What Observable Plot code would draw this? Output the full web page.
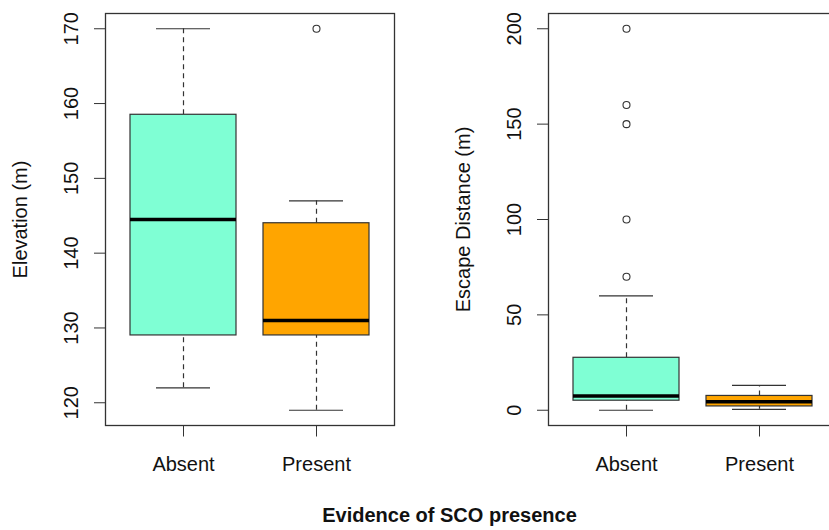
<!DOCTYPE html>
<html>
<head>
<meta charset="utf-8">
<script src="https://cdn.jsdelivr.net/npm/d3@7"></script>
<script src="https://cdn.jsdelivr.net/npm/@observablehq/plot@0.6"></script>
<style>
  html, body { margin: 0; padding: 0; background: white; }
  #wrap { position: relative; width: 829px; height: 530px; overflow: hidden; background: white; }
  #wrap svg { position: absolute; top: 0; max-width: none !important; }
  #title { position: absolute; left: 0; width: 899px; top: 504.6px; text-align: center;
           font-family: 'Liberation Sans', Arial, sans-serif; font-weight: bold; font-size: 20px; line-height: 20px; color: #111; }
</style>
</head>
<body>
<div id="wrap"><div id="title">Evidence of SCO presence</div></div>
<script>
// ---- data ----
const categories = ["Absent", "Present"];
const boxColors = ["#7FFFD4", "#FFA500"];

const elevLow    = [122, 119];
const elevQ1     = [129, 129];
const elevMedian = [144.5, 131];
const elevQ3     = [158.5, 144];
const elevHigh   = [170, 147];
const elevOutCat = ["Present"];
const elevOutVal = [170];
const elevTicks  = [120, 130, 140, 150, 160, 170];

const escLow    = [0, 0.5];
const escQ1     = [5, 2];
const escMedian = [7.5, 4.5];
const escQ3     = [27.5, 7.5];
const escHigh   = [60, 13];
const escOutCat = ["Absent", "Absent", "Absent", "Absent", "Absent"];
const escOutVal = [70, 100, 150, 160, 200];
const escTicks  = [0, 50, 100, 150, 200];

function panel({low, q1, med, q3, high, outCat, outVal, ticks, label, width, marginLeft, marginRight}) {
  const stats = categories.map((c, i) => ({cat: c, low: low[i], q1: q1[i], med: med[i], q3: q3[i], high: high[i]}));
  const outliers = outCat.map((c, i) => ({cat: c, v: outVal[i]}));
  // R-style 4% range extension
  const lo = Math.min(d3.min(low), d3.min(outVal));
  const hi = Math.max(d3.max(high), d3.max(outVal));
  const pad = (hi - lo) * 0.04;
  const ink = "#333";
  return Plot.plot({
    width, height: 480,
    marginLeft, marginRight, marginTop: 13, marginBottom: 55,
    style: {fontFamily: "'Liberation Sans', Arial, sans-serif", fontSize: "20px", color: "#111", background: "white"},
    x: {type: "band", domain: categories, paddingInner: 0.2, paddingOuter: 0.18, label: null},
    y: {domain: [lo - pad, hi + pad], label: null},
    color: {domain: categories, range: boxColors},
    marks: [
      Plot.ruleX(stats, {x: "cat", y1: "q3", y2: "high", stroke: ink, strokeWidth: 1.2, strokeDasharray: "5,4"}),
      Plot.ruleX(stats, {x: "cat", y1: "low", y2: "q1", stroke: ink, strokeWidth: 1.2, strokeDasharray: "5,4"}),
      Plot.tickY(stats, {x: "cat", y: "high", stroke: ink, strokeWidth: 1.2, insetLeft: 26, insetRight: 26}),
      Plot.tickY(stats, {x: "cat", y: "low", stroke: ink, strokeWidth: 1.2, insetLeft: 26, insetRight: 26}),
      Plot.barY(stats, {x: "cat", y1: "q1", y2: "q3", fill: "cat", stroke: ink, strokeWidth: 1.2}),
      Plot.tickY(stats, {x: "cat", y: "med", stroke: "#000", strokeWidth: 3.5}),
      Plot.dot(outliers, {x: "cat", y: "v", r: 3.5, stroke: ink, strokeWidth: 1.1, fill: "none"}),
      Plot.frame({stroke: ink, strokeWidth: 1.3}),
      Plot.axisY({ticks, tickSize: 11, tickPadding: 16.5, tickRotate: -90, stroke: ink,
                  label, labelAnchor: "center", labelOffset: 92.5, labelArrow: false}),
      Plot.axisX({tickSize: 11.5, tickPadding: 20, stroke: ink, label: null})
    ]
  });
}

const left = panel({low: elevLow, q1: elevQ1, med: elevMedian, q3: elevQ3, high: elevHigh,
  outCat: elevOutCat, outVal: elevOutVal, ticks: elevTicks, label: "Elevation (m)",
  width: 415, marginLeft: 105, marginRight: 21});
const right = panel({low: escLow, q1: escQ1, med: escMedian, q3: escQ3, high: escHigh,
  outCat: escOutCat, outVal: escOutVal, ticks: escTicks, label: "Escape Distance (m)",
  width: 422, marginLeft: 133, marginRight: 0});
left.style.left = "0px";
right.style.left = "415px";
const wrap = document.getElementById("wrap");
wrap.appendChild(left);
wrap.appendChild(right);
</script>
</body>
</html>
